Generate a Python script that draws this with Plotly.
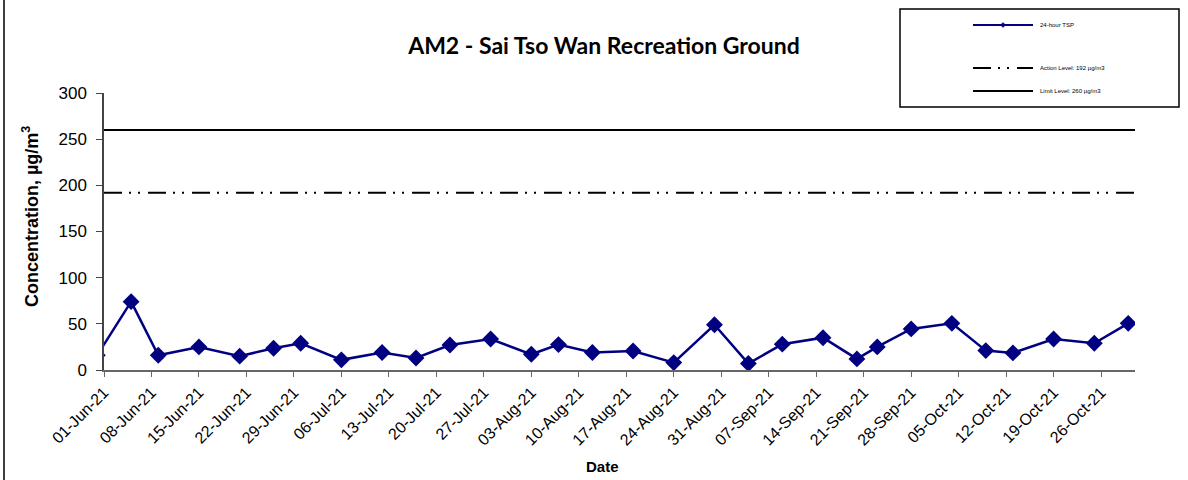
import plotly.graph_objects as go

# ---- data ----
dates = ["2021-05-31", "2021-06-05", "2021-06-09", "2021-06-15", "2021-06-21", "2021-06-26",
         "2021-06-30", "2021-07-06", "2021-07-12", "2021-07-17", "2021-07-22", "2021-07-28",
         "2021-08-03", "2021-08-07", "2021-08-12", "2021-08-18", "2021-08-24", "2021-08-30",
         "2021-09-04", "2021-09-09", "2021-09-15", "2021-09-20", "2021-09-23", "2021-09-28",
         "2021-10-04", "2021-10-09", "2021-10-13", "2021-10-19", "2021-10-25", "2021-10-30"]
tsp = [16, 74, 16, 25, 15, 23.5, 29, 11, 19, 13, 27, 33.5, 17, 27.5, 19, 20.5, 8, 49,
       7, 28, 35, 12, 25, 44.5, 50.5, 21, 18.5, 33.5, 29, 50.5]
level_dates = ["2021-06-01", "2021-10-31"]
action_level = [192, 192]
limit_level = [260, 260]
title_text = "AM2 - Sai Tso Wan Recreation Ground"
x_title = "Date"
y_title = "Concentration, µg/m<sup>3</sup>"
legend_labels = ["24-hour TSP", "Action Level: 192 µg/m3", "Limit Level: 260 µg/m3"]

# ---- layout geometry (pixels) ----
W, H = 1188, 480
L, R, T, B = 104, 1135, 93, 370


def px(x):
    return (x - L) / (R - L)


def py(y):
    return (B - y) / (B - T)


NAVY = "#000080"
ACTION_DASH = "18px,7px,2px,7px,2px,8px"
FONT = "Liberation Sans, Arial"

fig = go.Figure()
fig.add_trace(go.Scatter(x=level_dates, y=limit_level, mode="lines",
                         line=dict(color="black", width=2), showlegend=False,
                         hoverinfo="skip"))
fig.add_trace(go.Scatter(x=level_dates, y=action_level, mode="lines",
                         line=dict(color="black", width=2, dash=ACTION_DASH),
                         showlegend=False, hoverinfo="skip"))
fig.add_trace(go.Scatter(x=dates, y=tsp, mode="lines+markers",
                         line=dict(color=NAVY, width=2.5),
                         marker=dict(symbol="diamond", size=13, color=NAVY),
                         showlegend=False, cliponaxis=True))

shapes = []
# outer chart frame (left edge visible)
shapes.append(dict(type="line", xref="paper", yref="paper",
                   x0=px(4), x1=px(4), y0=py(0), y1=py(480),
                   line=dict(color="black", width=1.5)))
# legend box
shapes.append(dict(type="rect", xref="paper", yref="paper",
                   x0=px(900), x1=px(1179), y0=py(9), y1=py(107),
                   line=dict(color="black", width=1.5), fillcolor="white"))
ys = [25, 68, 91]
styles = [dict(color=NAVY, width=2), dict(color="black", width=2, dash=ACTION_DASH),
          dict(color="black", width=2)]
for yy, st in zip(ys, styles):
    shapes.append(dict(type="line", xref="paper", yref="paper",
                       x0=px(973), x1=px(1033), y0=py(yy), y1=py(yy), line=st))
# small diamond on TSP legend sample
shapes.append(dict(type="path", xref="paper", yref="paper",
                   path="M {a},{b} L {c},{d} L {a},{e} L {f},{d} Z".format(
                       a=px(1003), b=py(22.5), c=px(1005.5), d=py(25), e=py(27.5), f=px(1000.5)),
                   fillcolor=NAVY, line=dict(color=NAVY, width=0.5)))

annotations = []
for yy, lab in zip(ys, legend_labels):
    annotations.append(dict(text=lab, xref="paper", yref="paper", x=px(1038), y=py(yy),
                            xanchor="left", yanchor="middle", showarrow=False,
                            font=dict(family=FONT, size=6, color="black")))
# axis titles
annotations.append(dict(text="<b>" + y_title + "</b>", xref="paper", yref="paper",
                        x=px(30), y=py(217), xanchor="center", yanchor="middle",
                        textangle=-90, showarrow=False,
                        font=dict(family=FONT, size=18, color="black")))
annotations.append(dict(text="<b>" + x_title + "</b>", xref="paper", yref="paper",
                        x=px(602), y=py(466), xanchor="center", yanchor="middle",
                        showarrow=False,
                        font=dict(family=FONT, size=15, color="black")))

fig.update_layout(
    width=W, height=H,
    margin=dict(l=L, r=W - R, t=T, b=H - B, autoexpand=False),
    paper_bgcolor="white", plot_bgcolor="white",
    title=dict(text="<b>" + title_text + "</b>", xref="container", x=604 / W,
               xanchor="center", y=1 - 46 / H, yanchor="middle",
               font=dict(family="Lato, Liberation Sans", size=23, color="black")),
    shapes=shapes, annotations=annotations,
    xaxis=dict(type="date", range=["2021-06-01", "2021-10-31"],
               tick0="2021-06-01", dtick=7 * 24 * 3600 * 1000, tickformat="%d-%b-%y",
               tickangle=-45, ticks="outside", ticklen=5, tickcolor="#666",
               showline=True, linecolor="#666", linewidth=1.5, showgrid=False,
               zeroline=False,
               tickfont=dict(family=FONT, size=16, color="black")),
    yaxis=dict(range=[0, 300], dtick=50, ticks="outside", ticklen=6, tickcolor="#444",
               showline=True, linecolor="#444", linewidth=1.5, showgrid=False,
               zeroline=False, ticklabelstandoff=6,
               tickfont=dict(family=FONT, size=17, color="black")),
)

fig.write_html("out.html", config={"displayModeBar": False},
               post_script="document.body.style.margin='0px';")
